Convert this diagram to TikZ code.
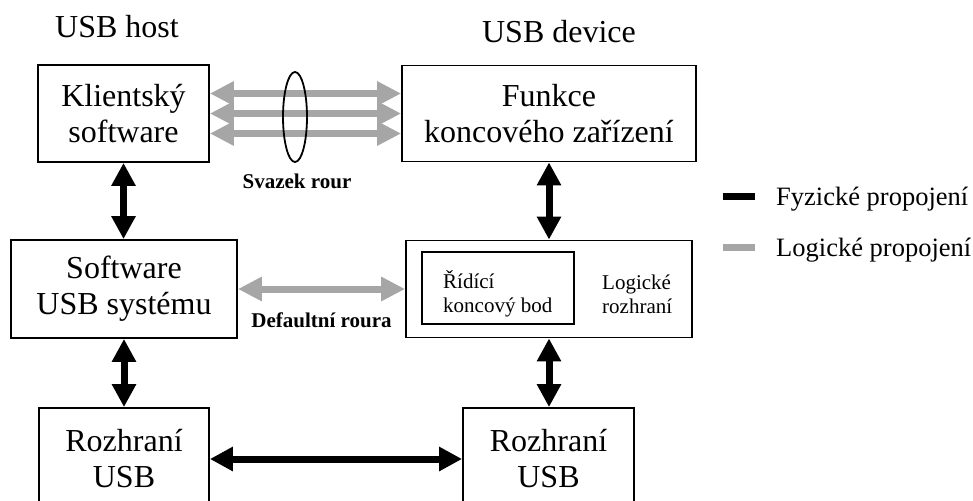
\documentclass[tikz,border=0pt]{standalone}
\usepackage{fontspec}
\setmainfont{Liberation Serif}
\usetikzlibrary{arrows.meta,shapes.geometric}
\definecolor{pipegray}{RGB}{166,166,166}
\begin{document}
\begin{tikzpicture}[x=1pt,y=-1pt,
  box/.style={draw,line width=1.8pt,inner sep=0pt,align=center,
    font=\fontsize{32}{36}\selectfont},
  innerbox/.style={draw,line width=1.8pt,inner sep=0pt},
  small/.style={inner sep=0pt,align=left,font=\fontsize{21}{24}\selectfont},
  pipelabel/.style={inner sep=0pt,anchor=base,font=\fontsize{21}{25}\selectfont\bfseries},
  title/.style={inner sep=0pt,anchor=base,font=\fontsize{32}{36}\selectfont},
  legendtext/.style={inner sep=0pt,anchor=base west,font=\fontsize{26.5}{30}\selectfont},
  tip/.style={Triangle[length=23pt,width=23pt]},
  phys/.style={line width=7pt,black,{Triangle[length=23pt,width=23pt]}-{Triangle[length=23pt,width=23pt]}},
  logi/.style={line width=7pt,pipegray,{Triangle[length=24pt,width=23pt]}-{Triangle[length=24pt,width=23pt]}},
]
\useasboundingbox (0,0) rectangle (973,500);
\clip (0,0) rectangle (973,500);

% headings
\node[title] (host) at (117,38) {USB host};
\node[title] (dev) at (559,43) {USB device};

% host side
\node[box,minimum width=171,minimum height=97] (klient) at (123.5,113.5) {Klientský\\software};
\node[box,minimum width=226,minimum height=98] (sys) at (124,289) {Software\\USB systému};
\node[box,minimum width=170,minimum height=102] (rozL) at (124,459) {Rozhraní\\USB};

% device side
\node[box,minimum width=294,minimum height=96] (funkce) at (549,113.5) {Funkce\\koncového zařízení};
\node[box,minimum width=286,minimum height=97] (logif) at (549,289) {};
\node[innerbox,minimum width=152,minimum height=72] (ctrl) at (498,288) {};
\node[small,anchor=west] (ctrltext) at (443,294) {Řídící\\koncový bod};
\node[small,anchor=west] (logtext) at (602,294) {Logické\\rozhraní};
\node[box,minimum width=171,minimum height=102] (rozR) at (548.5,459) {Rozhraní\\USB};

% logical pipes
\draw[logi] ([yshift=20pt]klient.east) -- ([yshift=20pt]klient.east -| funkce.west);
\draw[logi] (klient.east) -- (klient.east -| funkce.west);
\draw[logi] ([yshift=-20pt]klient.east) -- ([yshift=-20pt]klient.east -| funkce.west);
\node[draw,ellipse,line width=1.8pt,inner sep=0pt,minimum width=24,minimum height=90] (bundle) at (295,117) {};
\node[pipelabel] (bundlelabel) at (297,188) {Svazek rour};

\draw[logi] (sys.east) -- (sys.east -| logif.west);
\node[pipelabel] (deflabel) at (321.5,327) {Defaultní roura};

% physical links
\draw[phys] (klient.south) -- (klient.south |- sys.north);
\draw[phys] (sys.south) -- (sys.south |- rozL.north);
\draw[phys] (funkce.south) -- (funkce.south |- logif.north);
\draw[phys] (logif.south) -- (logif.south |- rozR.north);
\draw[phys] (rozL.east) -- (rozL.east -| rozR.west);

% legend
\coordinate (lp1) at (723,196);
\coordinate (lp2) at (755,196);
\coordinate (ll1) at (723,247);
\coordinate (ll2) at (755,247);
\draw[line width=7pt,black] (lp1) -- (lp2);
\draw[line width=7pt,pipegray] (ll1) -- (ll2);
\node[legendtext] (physlabel) at (776,205) {Fyzické propojení};
\node[legendtext] (logilabel) at (776,256) {Logické propojení};
\end{tikzpicture}
\end{document}
